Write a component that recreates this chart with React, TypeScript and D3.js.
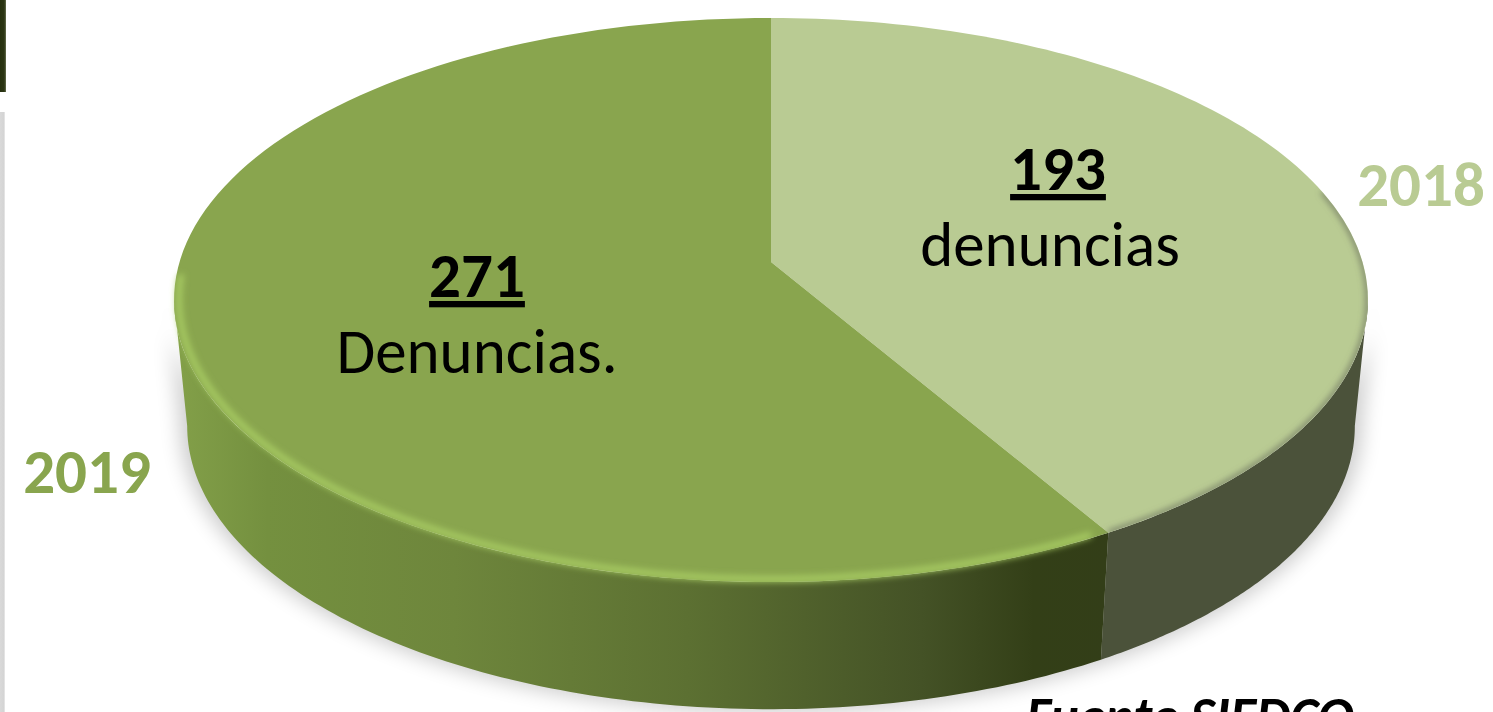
import React from "react";
import * as d3 from "d3";

const years = ["2018", "2019"];
const counts = [193, 271];
const captions = ["denuncias", "Denuncias."];
const topColors = ["#b9cb93", "#89a54e"];
const yearColors = ["#b9cb93", "#89a54e"];
const sourceNote = "Fuente SIEDCO";

const W = 1493, H = 712;
const CX = 771, Y0 = 262, A = 241.6, K = -0.1348, RX = 591.5;
const WALL_DY = 126, WALL_SX = 0.978, WALL_SY = 1.004;
const LEFT_SIL = (262.3 * Math.PI) / 180;
const RIGHT_SIL = (97.7 * Math.PI) / 180;

// perspective projection of the unit disc (angle clockwise from top)
const project = (a: number, r = 1, lower = false): [number, number] => {
  const u = r * Math.sin(a), v = -r * Math.cos(a);
  const w = 1 + K * v;
  const sx = lower ? WALL_SX : 1;
  const sy = lower ? WALL_SY : 1;
  return [CX + (sx * RX * u) / w, (sy * A * v + Y0) / w + (lower ? WALL_DY : 0)];
};
const samples = (a0: number, a1: number, lower = false, r = 1) =>
  d3.range(0, 121).map((i) => {
    const a = a0 + ((a1 - a0) * i) / 120;
    return lower ? project(a, 1, true) : project(a, r);
  });
const line = d3.line();

const arcs = d3.pie<number>().sort(null)(counts);
const boundary = arcs[0].endAngle;

const topPath = (s: d3.PieArcDatum<number>) =>
  line([project(0, 0), ...samples(s.startAngle, s.endAngle)])! + "Z";
const wallPath = (a0: number, a1: number) =>
  line([...samples(a0, a1), ...samples(a1, a0, true)])! + "Z";

const wallStops: [number, string][] = [
  [0, "#83a049"], [0.1, "#74903f"], [0.3, "#6e863c"], [0.55, "#5c7032"], [0.8, "#445226"], [0.92, "#333f17"], [1, "#333e18"],
];
const font = "Carlito, Lato, 'Open Sans', sans-serif";

export default function App() {
  const x0 = project(LEFT_SIL)[0], x1 = project(boundary)[0];
  return (
    <svg width={W} height={H} viewBox={`0 0 ${W} ${H}`} style={{ position: "fixed", left: 0, top: 0, background: "#fff" }}>
      <defs>
        <linearGradient id="wall19" gradientUnits="userSpaceOnUse" x1={x0} x2={x1} y1={0} y2={0}>
          {wallStops.map(([o, c]) => <stop key={o} offset={o} stopColor={c} />)}
        </linearGradient>
        <linearGradient id="darkBar" x1="0" x2="1" y1="0" y2="0">
          <stop offset="0" stopColor="#26300f" /><stop offset="0.7" stopColor="#2b3514" /><stop offset="1" stopColor="#67704f" />
        </linearGradient>
        <linearGradient id="greyBar" x1="0" x2="1" y1="0" y2="0">
          <stop offset="0" stopColor="#d9d9d9" /><stop offset="0.8" stopColor="#d4d4d4" /><stop offset="1" stopColor="#f2f2f2" />
        </linearGradient>
        <filter id="shadow" x="-10%" y="-20%" width="120%" height="140%"><feGaussianBlur stdDeviation="10" /></filter>
        <filter id="soft" x="-5%" y="-5%" width="110%" height="110%"><feGaussianBlur stdDeviation="3" /></filter>
        <clipPath id="topClip"><path d={line(samples(0, Math.PI * 2))! + "Z"} /></clipPath>
      </defs>

      <rect x={0} y={0} width={6} height={92} fill="url(#darkBar)" />
      <rect x={0} y={112} width={5} height={600} fill="url(#greyBar)" />

      <path d={wallPath(RIGHT_SIL, LEFT_SIL)} fill="#000" opacity={0.2} filter="url(#shadow)" transform={`translate(${CX} 440) scale(1.012 1.012) translate(${-CX} -440)`} />

      <path d={wallPath(RIGHT_SIL, boundary)} fill="#4b523a" />
      <path d={wallPath(boundary, LEFT_SIL)} fill="url(#wall19)" />

      {arcs.map((s, i) => <path key={years[i]} d={topPath(s)} fill={topColors[i]} />)}

      <g clipPath="url(#topClip)">
        <path d={line(samples(RIGHT_SIL - 0.4, boundary))!} fill="none" stroke="#6e7460" strokeWidth={4} filter="url(#soft)" />
      </g>
      <path d={line(samples(boundary + 0.03, LEFT_SIL + 0.08, false, 0.992))!} fill="none" stroke="#a8cc64" strokeWidth={6} strokeLinecap="round" filter="url(#soft)" />

      <g fontFamily={font} textAnchor="middle" fill="#000">
        {[[1058, 190, 266], [477, 297, 373]].map(([x, y1, y2], i) => (
          <g key={years[i]}>
            <text x={x} y={y1} fontSize={63} fontWeight={700} textDecoration="underline">{counts[i]}</text>
            <text x={i === 0 ? x - 8 : x} y={y2} fontSize={63}>{captions[i]}</text>
          </g>
        ))}
        <text x={1421} y={206} fontSize={63} fontWeight={700} fill={yearColors[0]}>{years[0]}</text>
        <text x={87} y={493} fontSize={63} fontWeight={700} fill={yearColors[1]}>{years[1]}</text>
        <text x={1190} y={735} fontSize={54} fontWeight={700} fontStyle="italic">{sourceNote}</text>
      </g>
    </svg>
  );
}
